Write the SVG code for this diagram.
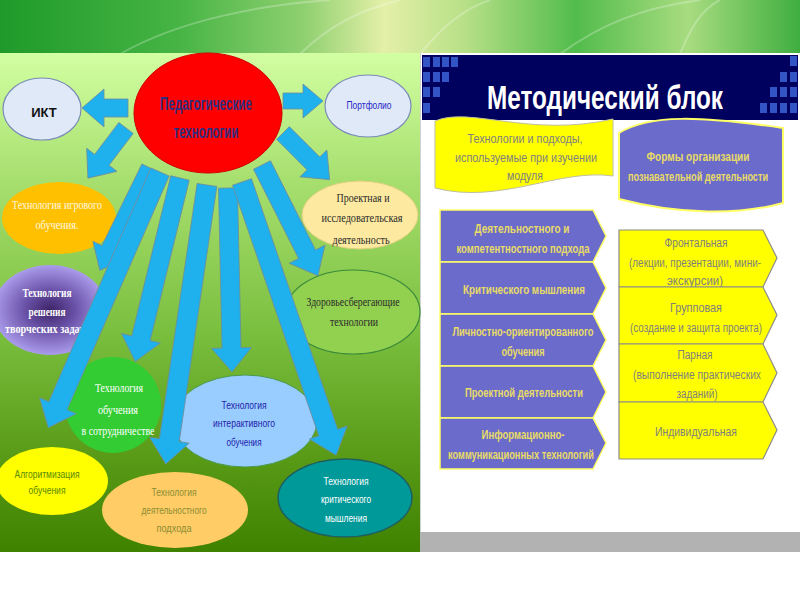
<svg xmlns="http://www.w3.org/2000/svg" width="800" height="600" viewBox="0 0 800 600">
<defs>
<linearGradient id="banner" x1="0" y1="0" x2="1" y2="0">
<stop offset="0" stop-color="#1f9a2a"/>
<stop offset="0.22" stop-color="#45b444"/>
<stop offset="0.38" stop-color="#8fd070"/>
<stop offset="0.48" stop-color="#e4f0a8"/>
<stop offset="0.58" stop-color="#b8e088"/>
<stop offset="0.72" stop-color="#52bc4c"/>
<stop offset="0.86" stop-color="#a8dc80"/>
<stop offset="1" stop-color="#3fae40"/>
</linearGradient>
<linearGradient id="leftbg" x1="0" y1="0" x2="0" y2="1">
<stop offset="0" stop-color="#d2ffa2"/>
<stop offset="0.25" stop-color="#a8e070"/>
<stop offset="0.55" stop-color="#7cc040"/>
<stop offset="0.8" stop-color="#5a9c18"/>
<stop offset="1" stop-color="#3f8200"/>
</linearGradient>
<radialGradient id="purple" cx="0.5" cy="0.5" r="0.5">
<stop offset="0" stop-color="#3e2468"/>
<stop offset="0.45" stop-color="#6a52a8"/>
<stop offset="1" stop-color="#ab9ceb"/>
</radialGradient>
<style>
.arrow{fill:#1fb0ee;stroke:#6f8c9c;stroke-width:0.8}
.sans{font-family:"Liberation Sans",Arial,sans-serif;text-anchor:middle}
.serif{font-family:"Liberation Serif","Times New Roman",serif;text-anchor:middle}
.sq{fill:#3354c4}
.lchev{fill:#6b6bcc;stroke:#ffff66;stroke-width:1.5}
.rchev{fill:#ffff00;stroke:#8c8c8c;stroke-width:1.2}
.ltxt{fill:#e8dc66;font-size:12px;font-weight:bold}
.rtxt{fill:#7f7f7f;font-size:12px}
</style>
</defs>

<!-- background -->
<rect x="0" y="0" width="800" height="600" fill="#ffffff"/>
<rect x="0" y="0" width="800" height="54" fill="url(#banner)"/>
<g fill="none" stroke="#ffffff" stroke-opacity="0.25" stroke-width="2">
<path d="M120,54 C180,20 260,5 330,0"/>
<path d="M300,54 C330,25 360,10 400,0"/>
<path d="M420,54 C440,30 460,10 490,0"/>
<path d="M560,54 C600,25 640,8 700,0"/>
<path d="M680,54 C690,30 700,10 720,0"/>
</g>
<rect x="0" y="53" width="420" height="499" fill="url(#leftbg)"/>
<rect x="420" y="53" width="380" height="479" fill="#ffffff"/>
<line x1="420.5" y1="53" x2="420.5" y2="552" stroke="#d0d0d0" stroke-width="1"/>
<rect x="420" y="532" width="380" height="20" fill="#b2b2b2"/>

<!-- left panel nodes -->
<g id="ikt"><ellipse cx="42" cy="109" rx="39" ry="31" fill="#dfe9f7" stroke="#7a8ab8" stroke-width="1.2"/>
<text class="sans" x="44" y="117" font-size="13" font-weight="bold" fill="#111">ИКТ</text></g>
<g id="portfolio"><ellipse cx="368" cy="106" rx="43" ry="31" fill="#dfe9f7" stroke="#7a8ab8" stroke-width="1.2"/>
<text class="sans" x="369" y="109" font-size="11" fill="#2626c8" textLength="45" lengthAdjust="spacingAndGlyphs">Портфолио</text></g>
<g id="igrovoe"><ellipse cx="59" cy="218" rx="57" ry="36" fill="#ffc000"/>
<text class="serif" font-size="12" fill="#fff8e0"><tspan x="57" y="209" textLength="90" lengthAdjust="spacingAndGlyphs">Технология игрового</tspan><tspan x="57" y="229" textLength="43" lengthAdjust="spacingAndGlyphs">обучения.</tspan></text></g>
<g id="proektnaya"><ellipse cx="360" cy="215" rx="58" ry="34" fill="#fde9a0" stroke="#e0d080" stroke-width="1"/>
<text class="serif" font-size="12" fill="#2a2a2a"><tspan x="363" y="202" textLength="53" lengthAdjust="spacingAndGlyphs">Проектная и</tspan><tspan x="362" y="222" textLength="81" lengthAdjust="spacingAndGlyphs">исследовательская</tspan><tspan x="361" y="244" textLength="57" lengthAdjust="spacingAndGlyphs">деятельность</tspan></text></g>
<g id="tvorcheskie"><ellipse cx="50" cy="310" rx="57" ry="45" fill="url(#purple)"/>
<text class="serif" font-size="12" font-weight="bold" fill="#ffffff"><tspan x="47" y="297" textLength="49" lengthAdjust="spacingAndGlyphs">Технология</tspan><tspan x="47" y="316" textLength="37" lengthAdjust="spacingAndGlyphs">решения</tspan><tspan x="45" y="333" textLength="80" lengthAdjust="spacingAndGlyphs">творческих задач</tspan></text></g>
<g id="zdorovye"><ellipse cx="353" cy="312" rx="67" ry="42" fill="#92d050" stroke="#3a8a3a" stroke-width="1.2"/>
<text class="serif" font-size="12" fill="#2a2a2a"><tspan x="353" y="306" textLength="93" lengthAdjust="spacingAndGlyphs">Здоровьесберегающие</tspan><tspan x="354" y="326" textLength="48" lengthAdjust="spacingAndGlyphs">технологии</tspan></text></g>
<g id="sotrudnichestvo"><ellipse cx="113" cy="405" rx="48" ry="48" fill="#33cc33"/>
<text class="serif" font-size="12" fill="#ffffff"><tspan x="119" y="392" textLength="48" lengthAdjust="spacingAndGlyphs">Технология</tspan><tspan x="118" y="414" textLength="40" lengthAdjust="spacingAndGlyphs">обучения</tspan><tspan x="118" y="435" textLength="73" lengthAdjust="spacingAndGlyphs">в сотрудничестве</tspan></text></g>
<g id="interaktiv"><ellipse cx="245" cy="421" rx="72" ry="46" fill="#99ccff" stroke="#4a9a4a" stroke-width="1"/>
<text class="sans" font-size="11" fill="#2222aa"><tspan x="244" y="409" textLength="45" lengthAdjust="spacingAndGlyphs">Технология</tspan><tspan x="244" y="427" textLength="62" lengthAdjust="spacingAndGlyphs">интерактивного</tspan><tspan x="244" y="446" textLength="35" lengthAdjust="spacingAndGlyphs">обучения</tspan></text></g>
<g id="algoritm"><ellipse cx="52" cy="481" rx="56" ry="34" fill="#ffff00"/>
<text class="sans" font-size="11" fill="#5a8a00"><tspan x="47" y="478" textLength="65" lengthAdjust="spacingAndGlyphs">Алгоритмизация</tspan><tspan x="47" y="494" textLength="37" lengthAdjust="spacingAndGlyphs">обучения</tspan></text></g>
<g id="deyatelnost"><ellipse cx="175" cy="510" rx="73" ry="38" fill="#ffcc66"/>
<text class="sans" font-size="11" fill="#8c8c32"><tspan x="174" y="496" textLength="45" lengthAdjust="spacingAndGlyphs">Технология</tspan><tspan x="174" y="514" textLength="65" lengthAdjust="spacingAndGlyphs">деятельностного</tspan><tspan x="174" y="532" textLength="35" lengthAdjust="spacingAndGlyphs">подхода</tspan></text></g>
<g id="kritich"><ellipse cx="345" cy="498" rx="67" ry="39" fill="#009999" stroke="#1f5f5f" stroke-width="1.5"/>
<text class="sans" font-size="11" fill="#ffffff"><tspan x="346" y="485" textLength="45" lengthAdjust="spacingAndGlyphs">Технология</tspan><tspan x="346" y="503" textLength="50" lengthAdjust="spacingAndGlyphs">критического</tspan><tspan x="346" y="522" textLength="42" lengthAdjust="spacingAndGlyphs">мышления</tspan></text></g>

<!-- connectors -->
<g id="connectors">
<path class="arrow" transform="translate(128,108) rotate(180)" d="M0,-9 H24 V-19 L46,0 L24,19 V9 H0 Z"/>
<path class="arrow" transform="translate(283,101)" d="M0,-8 H20 V-17 L40,0 L20,17 V8 H0 Z"/>
<path class="arrow" transform="translate(126,128) rotate(127.2)" d="M0,-9 H40 V-19 L63,0 L40,19 V9 H0 Z"/>
<path class="arrow" transform="translate(283,133) rotate(45)" d="M0,-9 H43 V-19 L66,0 L43,19 V9 H0 Z"/>
<path class="arrow" transform="translate(150,168) rotate(116.1)" d="M0,-9 H91 V-19 L114,0 L91,19 V9 H0 Z"/>
<path class="arrow" transform="translate(160,172) rotate(113.6)" d="M0,-10 H255 V-20 L279,0 L255,20 V10 H0 Z"/>
<path class="arrow" transform="translate(180,178) rotate(103.7)" d="M0,-9.5 H165 V-20 L189,0 L165,20 V9.5 H0 Z"/>
<path class="arrow" transform="translate(207,185) rotate(98.4)" d="M0,-10 H258 V-20 L282,0 L258,20 V10 H0 Z"/>
<path class="arrow" transform="translate(228,188) rotate(88.75)" d="M0,-9.5 H160 V-20 L184,0 L160,20 V9.5 H0 Z"/>
<path class="arrow" transform="translate(262,165) rotate(63.2)" d="M0,-9.5 H100 V-20 L124,0 L100,20 V9.5 H0 Z"/>
<path class="arrow" transform="translate(242,182) rotate(71)" d="M0,-10 H265 V-20 L289,0 L265,20 V10 H0 Z"/>
</g>

<g id="ped-tech"><ellipse cx="208" cy="113" rx="74" ry="60" fill="#ff0000" stroke="#d00000" stroke-width="1"/>
<text class="sans" font-size="19" font-weight="bold" fill="#2e2e80"><tspan x="206" y="110" textLength="92" lengthAdjust="spacingAndGlyphs">Педагогические</tspan><tspan x="206" y="138" textLength="65" lengthAdjust="spacingAndGlyphs">технологии</tspan></text></g>

<!-- right panel -->
<g id="title">
<rect x="422" y="55" width="376" height="65" fill="#00005e"/>
<rect class="sq" x="423" y="57" width="7" height="10"/><rect class="sq" x="433" y="57" width="7" height="10"/><rect class="sq" x="442" y="57" width="7" height="10"/><rect class="sq" x="451" y="57" width="7" height="10"/>
<rect class="sq" x="423" y="72" width="7" height="10"/><rect class="sq" x="433" y="72" width="7" height="10"/><rect class="sq" x="442" y="72" width="7" height="10"/>
<rect class="sq" x="423" y="87" width="7" height="10"/><rect class="sq" x="433" y="87" width="7" height="10"/>
<rect class="sq" x="423" y="103" width="7" height="10"/>
<rect class="sq" x="790" y="56" width="7" height="10"/>
<rect class="sq" x="780" y="72" width="7" height="10"/><rect class="sq" x="790" y="72" width="7" height="10"/>
<rect class="sq" x="770" y="87" width="7" height="10"/><rect class="sq" x="780" y="87" width="7" height="10"/><rect class="sq" x="790" y="87" width="7" height="10"/>
<rect class="sq" x="760" y="103" width="7" height="10"/><rect class="sq" x="770" y="103" width="7" height="10"/><rect class="sq" x="780" y="103" width="7" height="10"/><rect class="sq" x="790" y="103" width="7" height="10"/>
<text class="sans" x="605" y="109" font-size="34" font-weight="bold" fill="#ffffff" textLength="236" lengthAdjust="spacingAndGlyphs">Методический блок</text>
</g>

<g id="tech-header"><path d="M435,121 C470,106 530,138 613,119 L613,176 C560,168 500,205 435,188 Z" fill="#ffff00" stroke="#bfbf9f" stroke-width="1"/>
<text class="sans" font-size="13" fill="#808080"><tspan x="525" y="143" textLength="115" lengthAdjust="spacingAndGlyphs">Технологии и подходы,</tspan><tspan x="526" y="162" textLength="142" lengthAdjust="spacingAndGlyphs">используемые при изучении</tspan><tspan x="525" y="180" textLength="36" lengthAdjust="spacingAndGlyphs">модуля</tspan></text></g>
<g id="forms-header"><path d="M619,133 C650,114 700,116 783,128 L783,203 C740,215 680,215 619,199 Z" fill="#6b6bcc" stroke="#ffff66" stroke-width="2"/>
<text class="sans" font-size="12" font-weight="bold" fill="#e8dc66"><tspan x="698" y="161" textLength="103" lengthAdjust="spacingAndGlyphs">Формы организации</tspan><tspan x="698" y="181" textLength="140" lengthAdjust="spacingAndGlyphs">познавательной деятельности</tspan></text></g>

<g id="l1"><path class="lchev" d="M440,210 H593 L606,236 L593,262 H440 Z"/>
<text class="sans ltxt"><tspan x="522" y="233" textLength="95" lengthAdjust="spacingAndGlyphs">Деятельностного  и</tspan><tspan x="523" y="253" textLength="133" lengthAdjust="spacingAndGlyphs">компетентностного подхода</tspan></text></g>
<g id="l2"><path class="lchev" d="M440,262 H593 L606,288 L593,314 H440 Z"/>
<text class="sans ltxt" x="524" y="294" textLength="122" lengthAdjust="spacingAndGlyphs">Критического  мышления</text></g>
<g id="l3"><path class="lchev" d="M440,314 H593 L606,340 L593,366 H440 Z"/>
<text class="sans ltxt"><tspan x="523" y="336" textLength="141" lengthAdjust="spacingAndGlyphs">Личностно-ориентированного</tspan><tspan x="523" y="356" textLength="43" lengthAdjust="spacingAndGlyphs">обучения</tspan></text></g>
<g id="l4"><path class="lchev" d="M440,366 H593 L606,392 L593,418 H440 Z"/>
<text class="sans ltxt" x="524" y="397" textLength="118" lengthAdjust="spacingAndGlyphs">Проектной деятельности</text></g>
<g id="l5"><path class="lchev" d="M440,418 H593 L606,443 L593,469 H440 Z"/>
<text class="sans ltxt"><tspan x="523" y="439" textLength="83" lengthAdjust="spacingAndGlyphs">Информационно-</tspan><tspan x="521" y="459" textLength="146" lengthAdjust="spacingAndGlyphs">коммуникационных технологий</tspan></text></g>

<g id="r1"><path class="rchev" d="M619,230 H763 L777,258 L763,287 H619 Z"/>
<text class="sans rtxt"><tspan x="696" y="247" textLength="63" lengthAdjust="spacingAndGlyphs">Фронтальная</tspan><tspan x="695" y="267" textLength="132" lengthAdjust="spacingAndGlyphs">(лекции, презентации, мини-</tspan><tspan x="695" y="285" textLength="56" lengthAdjust="spacingAndGlyphs">экскурсии)</tspan></text></g>
<g id="r2"><path class="rchev" d="M619,287 H763 L777,315 L763,344 H619 Z"/>
<text class="sans rtxt"><tspan x="696" y="312" textLength="52" lengthAdjust="spacingAndGlyphs">Групповая</tspan><tspan x="696" y="332" textLength="132" lengthAdjust="spacingAndGlyphs">(создание и защита проекта)</tspan></text></g>
<g id="r3"><path class="rchev" d="M619,344 H763 L777,373 L763,402 H619 Z"/>
<text class="sans rtxt"><tspan x="695" y="359" textLength="35" lengthAdjust="spacingAndGlyphs">Парная</tspan><tspan x="697" y="379" textLength="128" lengthAdjust="spacingAndGlyphs">(выполнение практических</tspan><tspan x="697" y="398" textLength="41" lengthAdjust="spacingAndGlyphs">заданий)</tspan></text></g>
<g id="r4"><path class="rchev" d="M619,402 H763 L777,430 L763,459 H619 Z"/>
<text class="sans rtxt" x="696" y="436" textLength="82" lengthAdjust="spacingAndGlyphs">Индивидуальная</text></g>
</svg>
